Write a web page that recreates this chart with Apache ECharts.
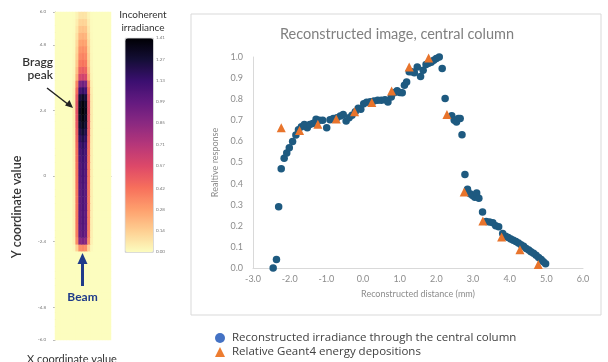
<!DOCTYPE html>
<html>
<head>
<meta charset="utf-8">
<script src="https://cdn.jsdelivr.net/npm/echarts@6/dist/echarts.min.js"></script>
<style>
  html, body { margin: 0; padding: 0; background: #fff; }
  #chart { width: 608px; height: 362px; }
</style>
</head>
<body>
<div id="chart"></div>
<script>
// right panel: reconstructed irradiance, central column [distance mm, relative response]
const irradiancePoints = [
  [-2.45, 0.00], [-2.36, 0.04], [-2.30, 0.29], [-2.23, 0.47], [-2.15, 0.52], [-2.08, 0.545],
  [-2.01, 0.57], [-1.92, 0.60], [-1.83, 0.63], [-1.76, 0.655], [-1.68, 0.67], [-1.60, 0.68],
  [-1.52, 0.665], [-1.45, 0.68], [-1.37, 0.685], [-1.28, 0.705], [-1.19, 0.70], [-1.10, 0.70],
  [-0.99, 0.665], [-0.90, 0.703], [-0.81, 0.708], [-0.71, 0.712], [-0.62, 0.72], [-0.54, 0.728],
  [-0.46, 0.697], [-0.38, 0.712], [-0.30, 0.724], [-0.21, 0.74], [-0.13, 0.757], [-0.06, 0.752],
  [0.02, 0.778], [0.10, 0.786], [0.20, 0.788], [0.30, 0.792], [0.40, 0.795], [0.50, 0.795],
  [0.60, 0.797], [0.68, 0.787], [0.77, 0.81], [0.85, 0.83], [0.93, 0.84], [1.00, 0.832],
  [1.07, 0.83], [1.13, 0.866], [1.19, 0.882], [1.26, 0.93], [1.33, 0.93], [1.40, 0.925],
  [1.48, 0.953], [1.57, 0.908], [1.64, 0.937], [1.72, 0.965], [1.79, 0.97], [1.86, 0.975],
  [1.93, 0.985], [2.00, 0.993], [2.08, 1.0], [2.16, 0.945], [2.24, 0.803], [2.42, 0.722],
  [2.49, 0.70], [2.55, 0.692], [2.60, 0.708], [2.65, 0.708], [2.70, 0.632], [2.78, 0.443],
  [2.85, 0.373], [2.92, 0.352], [2.99, 0.344], [3.05, 0.335], [3.10, 0.355], [3.16, 0.33],
  [3.26, 0.265], [3.36, 0.22], [3.45, 0.218], [3.54, 0.215], [3.62, 0.20], [3.70, 0.195],
  [3.81, 0.163], [3.89, 0.15], [3.96, 0.145], [4.03, 0.138], [4.10, 0.132], [4.17, 0.126],
  [4.24, 0.118], [4.31, 0.11], [4.38, 0.103], [4.45, 0.093], [4.52, 0.085], [4.58, 0.077],
  [4.65, 0.07], [4.72, 0.06], [4.79, 0.05], [4.86, 0.04], [4.92, 0.03], [4.98, 0.02]
];
const geantPoints = [
  [-2.23, 0.665], [-1.73, 0.652], [-1.23, 0.681], [-0.73, 0.706], [-0.23, 0.741],
  [0.24, 0.784], [0.78, 0.839], [1.26, 0.953], [1.79, 0.995], [2.29, 0.728],
  [2.76, 0.36], [3.27, 0.223], [3.78, 0.147], [4.28, 0.087], [4.78, 0.017]
];

// left panel: beam map. centre-line irradiance per row (y from -5.875 to 5.875, step 0.25)
const axialProfile = [
  0, 0, 0, 0, 0, 0, 0, 0, 0, 0, 0, 0, 0,
  0.35, 0.9, 1.02, 1.04, 1.05, 1.05, 1.06, 1.06, 1.07, 1.07, 1.08,
  1.09, 1.1, 1.12, 1.14, 1.17, 1.22, 1.28, 1.34, 1.38, 1.41, 1.39, 1.32,
  1.15, 0.95, 0.62, 0.5, 0.42, 0.37, 0.33, 0.28, 0.23, 0.18, 0.13, 0.08
];
// relative fall-off across the beam (19 columns, beam in the middle)
const lateralProfile = [0, 0, 0, 0, 0, 0, 0.04, 0.38, 0.95, 1, 0.95, 0.38, 0.04, 0, 0, 0, 0, 0, 0];
const mapYTicks = [-6, -4.8, -2.4, 0, 2.4, 4.8, 6];
const colorbarTicks = [0, 0.14, 0.28, 0.42, 0.57, 0.71, 0.85, 0.99, 1.13, 1.27, 1.41];
const magmaReversed = ['#fcfdbf', '#fecf92', '#fe9f6d', '#f7705c', '#de4968', '#b73779',
  '#8c2981', '#641a80', '#3b0f70', '#140e36', '#000004'];

const mapRows = axialProfile.map((v, i) => (-5.875 + i * 0.25).toFixed(3));
const mapCols = lateralProfile.map((v, i) => String(i));
const mapData = [];
axialProfile.forEach((a, r) => {
  lateralProfile.forEach((l, c) => { mapData.push([c, r, +(a * l).toFixed(3)]); });
});

const font = 'Lato, "Open Sans", sans-serif';
const legendFont = '"Open Sans", Lato, sans-serif';
const grey = '#8c8c8c';
const navy = '#1f3b8a';

const chart = echarts.init(document.getElementById('chart'));
chart.setOption({
  animation: false,
  textStyle: { fontFamily: font },
  grid: [
    { left: 55, top: 12, width: 56, height: 328, show: true, backgroundColor: '#fcfdbf', borderWidth: 0 },
    { left: 253, top: 57, width: 330, height: 211 },
    { left: 125, top: 38, width: 28, height: 214 }
  ],
  xAxis: [
    {
      gridIndex: 0, type: 'category', data: mapCols,
      axisLabel: { show: false }, axisTick: { show: false },
      axisLine: { lineStyle: { color: '#999', type: 'dashed', width: 1 } }
    },
    {
      gridIndex: 1, type: 'value', min: -3, max: 6, interval: 1,
      name: 'Reconstructed distance (mm)', nameLocation: 'middle', nameGap: 22,
      nameTextStyle: { fontSize: 9, color: grey },
      axisLine: { onZero: false, lineStyle: { color: '#d9d9d9' } },
      axisTick: { show: false },
      axisLabel: { fontSize: 9, color: grey, margin: 7, formatter: v => v.toFixed(1) },
      splitLine: { show: false }
    },
    { gridIndex: 2, type: 'value', show: false }
  ],
  yAxis: [
    { gridIndex: 0, type: 'category', data: mapRows, show: false },
    {
      gridIndex: 0, type: 'value', min: -6, max: 6, position: 'left',
      axisLine: { show: true, onZero: false, lineStyle: { color: '#aaa' } },
      axisTick: { show: true, length: 2, lineStyle: { color: '#bbb' }, customValues: mapYTicks },
      axisLabel: {
        fontSize: 4.5, color: '#777', margin: 9, customValues: mapYTicks,
        formatter: v => (v === 0 ? '0' : v.toFixed(1))
      },
      splitLine: { show: false }
    },
    {
      gridIndex: 1, type: 'value', min: 0, max: 1, interval: 0.1,
      name: 'Realtive response', nameLocation: 'middle', nameGap: 33,
      nameTextStyle: { fontSize: 9, color: grey },
      axisLine: { show: true, onZero: false, lineStyle: { color: '#d9d9d9' } },
      axisTick: { show: false },
      axisLabel: { fontSize: 9, color: grey, margin: 10, formatter: v => v.toFixed(1) },
      splitLine: { show: false }
    },
    {
      gridIndex: 2, type: 'value', min: 0, max: 1.41, position: 'right',
      axisLine: { show: false }, axisTick: { show: false }, splitLine: { show: false },
      axisLabel: {
        fontSize: 4.5, color: '#777', margin: 3, customValues: colorbarTicks,
        formatter: v => v.toFixed(2)
      }
    }
  ],
  visualMap: {
    type: 'continuous', seriesIndex: 0, min: 0, max: 1.41, calculable: false,
    left: 125, top: 38, itemWidth: 28, itemHeight: 214, padding: 0,
    borderColor: '#999', borderWidth: 0.5,
    inRange: { color: magmaReversed }
  },
  legend: [
    {
      left: 215, top: 332, padding: 0, itemWidth: 10, itemHeight: 10,
      textStyle: { fontSize: 11.5, color: '#404040', fontFamily: legendFont, padding: [0, 0, 0, 2] },
      data: [{ name: 'Reconstructed irradiance through the central column', icon: 'circle', itemStyle: { color: '#4472c4' } }]
    },
    {
      left: 215, top: 346, padding: 0, itemWidth: 10, itemHeight: 10,
      textStyle: { fontSize: 11.5, color: '#404040', fontFamily: legendFont, padding: [0, 0, 0, 2] },
      data: [{ name: 'Relative Geant4 energy depositions', icon: 'triangle', itemStyle: { color: '#ed7d31' } }]
    }
  ],
  series: [
    {
      type: 'heatmap', xAxisIndex: 0, yAxisIndex: 0, data: mapData,
      itemStyle: { borderWidth: 0 }, emphasis: { disabled: true }
    },
    {
      name: 'Reconstructed irradiance through the central column',
      type: 'scatter', xAxisIndex: 1, yAxisIndex: 2, data: irradiancePoints,
      symbol: 'circle', symbolSize: 7.5, itemStyle: { color: '#1e5a80', opacity: 1 }
    },
    {
      name: 'Relative Geant4 energy depositions',
      type: 'scatter', xAxisIndex: 1, yAxisIndex: 2, data: geantPoints,
      symbol: 'triangle', symbolSize: 9, itemStyle: { color: '#e8742c', opacity: 1 }
    }
  ],
  graphic: [
    { type: 'rect', z: 100, shape: { x: 191, y: 14, width: 410, height: 301 }, style: { fill: 'none', stroke: '#d9d9d9', lineWidth: 1 } },
    { type: 'text', z: 100, x: 397, y: 34, style: { text: 'Reconstructed image, central column', font: '14.5px ' + font, fill: '#808080', align: 'center', verticalAlign: 'middle' } },
    { type: 'text', z: 100, x: 143, y: 15, style: { text: 'Incoherent', font: '10px ' + font, fill: '#333', align: 'center', verticalAlign: 'middle' } },
    { type: 'text', z: 100, x: 143, y: 28, style: { text: 'irradiance', font: '10px ' + font, fill: '#333', align: 'center', verticalAlign: 'middle' } },
    { type: 'text', z: 100, x: 53, y: 62, style: { text: 'Bragg', font: '600 12px ' + font, fill: '#333', align: 'right', verticalAlign: 'middle' } },
    { type: 'text', z: 100, x: 53, y: 75, style: { text: 'peak', font: '600 12px ' + font, fill: '#333', align: 'right', verticalAlign: 'middle' } },
    { type: 'line', z: 100, shape: { x1: 47, y1: 88, x2: 69, y2: 105 }, style: { stroke: '#222', lineWidth: 1.5 } },
    { type: 'polygon', z: 100, shape: { points: [[73, 108], [65, 105.5], [69.5, 100]] }, style: { fill: '#222' } },
    { type: 'line', z: 100, shape: { x1: 82.5, y1: 286, x2: 82.5, y2: 262 }, style: { stroke: navy, lineWidth: 3 } },
    { type: 'polygon', z: 100, shape: { points: [[82.5, 253], [77.5, 264], [87.5, 264]] }, style: { fill: navy } },
    { type: 'text', z: 100, x: 82.5, y: 297, style: { text: 'Beam', font: 'bold 12px ' + font, fill: navy, align: 'center', verticalAlign: 'middle' } },
    { type: 'text', z: 100, x: 17, y: 207, rotation: Math.PI / 2, style: { text: 'Y coordinate value', font: '600 12.5px ' + font, fill: '#333', align: 'center', verticalAlign: 'middle' } },
    { type: 'text', z: 100, x: 72, y: 359, style: { text: 'X coordinate value', font: '11px ' + font, fill: '#333', align: 'center', verticalAlign: 'middle' } }
  ]
});
</script>
</body>
</html>
